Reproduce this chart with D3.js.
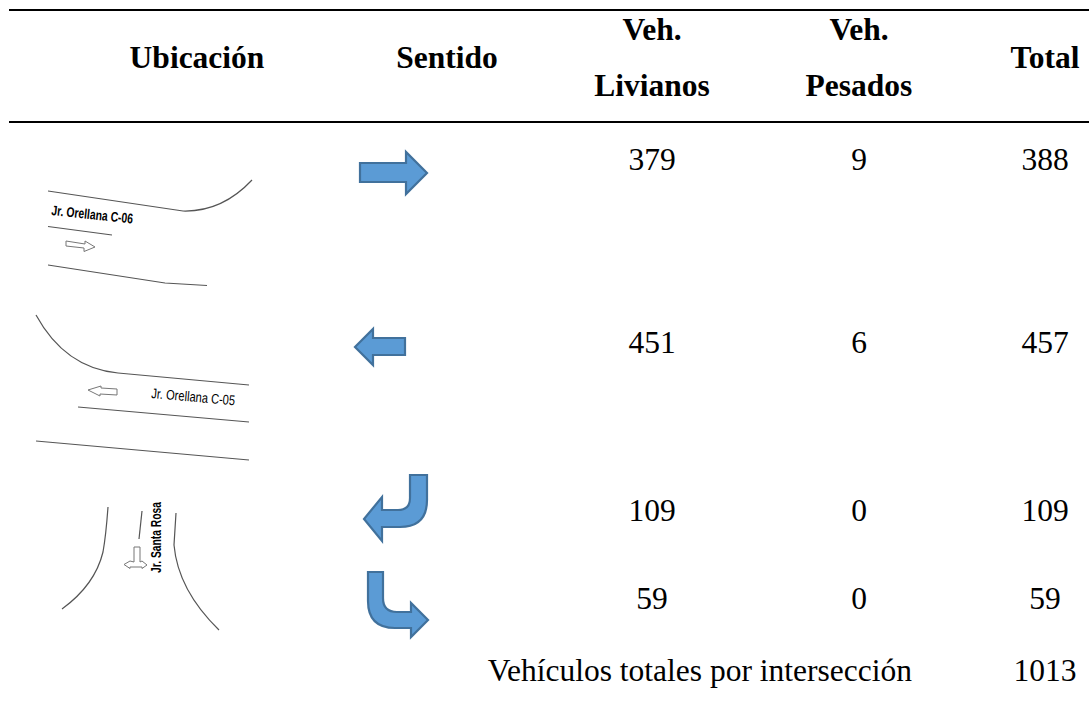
<!DOCTYPE html>
<html>
<head>
<meta charset="utf-8">
<script src="https://cdnjs.cloudflare.com/ajax/libs/d3/7.8.5/d3.min.js"></script>
<style>
	html, body { margin: 0; padding: 0; background: #fff; }
	svg { display: block; }
	text { font-family: "Liberation Serif", serif; fill: #000; }
	.head { font-weight: bold; font-size: 31.5px; text-anchor: middle; }
	.cell { font-size: 31.5px; text-anchor: middle; }
	.road { fill: none; stroke: #555; stroke-width: 1.2; }
	.small-arrow { fill: #fff; stroke: #777; stroke-width: 1; }
	.road-label { font-family: "Liberation Sans", sans-serif; font-size: 14px; }
	.turn { fill: #5b9bd5; stroke: #41719c; stroke-width: 2.2; }
</style>
</head>
<body>
<div id="chart"></div>
<script>
// Table values
var rowKeys = ["este", "oeste", "giroIzq", "giroDer"];
var livianos = [379, 451, 109, 59];
var pesados = [9, 6, 0, 0];
var totales = [388, 457, 109, 59];
var totalLabel = "Vehículos totales por intersección";
var totalGeneral = 1013;

var width = 1089, height = 701;

var svg = d3.select("#chart").append("svg")
	.attr("width", width)
	.attr("height", height);

// Row and column positions
var y = d3.scaleOrdinal().domain(rowKeys).range([170, 353, 521, 609]);
var colX = { livianos: 652, pesados: 859, total: 1045 };

// Horizontal rules
[10, 122].forEach(function(ruleY) {
	svg.append("line")
		.attr("x1", 9).attr("x2", 1089)
		.attr("y1", ruleY).attr("y2", ruleY)
		.attr("stroke", "#000").attr("stroke-width", 2);
});

// Header
var headers = [
	{ x: 197, y: 68, t: "Ubicación" },
	{ x: 447, y: 68, t: "Sentido" },
	{ x: colX.livianos, y: 40, t: "Veh." },
	{ x: colX.livianos, y: 96, t: "Livianos" },
	{ x: colX.pesados, y: 40, t: "Veh." },
	{ x: colX.pesados, y: 96, t: "Pesados" },
	{ x: colX.total, y: 68, t: "Total" }
];
svg.selectAll(".head").data(headers).enter().append("text")
	.attr("class", "head")
	.attr("x", function(d) { return d.x; })
	.attr("y", function(d) { return d.y; })
	.text(function(d) { return d.t; });

// Body cells
function addColumn(values, x) {
	svg.selectAll(null).data(values).enter().append("text")
		.attr("class", "cell")
		.attr("x", x)
		.attr("y", function(d, i) { return y(rowKeys[i]); })
		.text(function(d) { return d; });
}
addColumn(livianos, colX.livianos);
addColumn(pesados, colX.pesados);
addColumn(totales, colX.total);

// Footer
svg.append("text").attr("class", "cell")
	.attr("x", 912).attr("y", 681)
	.style("text-anchor", "end")
	.text(totalLabel);
svg.append("text").attr("class", "cell")
	.attr("x", colX.total).attr("y", 681)
	.text(totalGeneral);

// Blue direction arrows
var turnArrows = [
	"M360,163H406V152L427,173L406,194V182H360Z",
	"M405,338H373V329L355,347L373,365V355H405Z",
	"M410,475H427V500Q427,527 400,527H382V541L364,519L382,497V510H398Q410,510 410,498Z",
	"M368,572H383V598Q383,612 397,612H411V603L428,620L411,637V628H395Q368,628 368,601Z"
];
svg.selectAll(".turn").data(turnArrows).enter().append("path")
	.attr("class", "turn")
	.attr("d", function(d) { return d; });

// Road sketches in the first column
var roads = [
	"M48,191L183,211Q222,212 252,180",
	"M48,226.5L112,235",
	"M48,265L165,283L207,285.5",
	"M36,315Q65,368 118,373L249,385",
	"M78,407L249,422",
	"M36,441L249,460",
	"M108,507Q106,535 103,552Q95,585 62,609",
	"M142,511L139,539",
	"M176,513L174,545Q178,590 219,630"
];
svg.selectAll(".road").data(roads).enter().append("path")
	.attr("class", "road")
	.attr("d", function(d) { return d; });

var smallArrows = [
	"M66,241L85,244L85,241L95,247L84,251.5L84,248L66,246Z",
	"M117,389L117,395L100,394L100,396L88,390L101,386L101,388Z",
	"M134,547H140V562L142,561L147,565L142,568.5V567H130V568.5L124,564.5L130,561L134,562Z"
];
svg.selectAll(".small-arrow").data(smallArrows).enter().append("path")
	.attr("class", "small-arrow")
	.attr("d", function(d) { return d; });

var roadLabels = [
	{ t: "Jr. Orellana C-06", x: 51, y: 215, r: 6, w: "bold", len: 82 },
	{ t: "Jr. Orellana C-05", x: 151, y: 398, r: 5, w: "normal", len: 84 },
	{ t: "Jr. Santa Rosa", x: 161, y: 573, r: -90, w: "bold", len: 71 }
];
svg.selectAll(".road-label").data(roadLabels).enter().append("text")
	.attr("class", "road-label")
	.attr("transform", function(d) { return "translate(" + d.x + "," + d.y + ") rotate(" + d.r + ")"; })
	.attr("font-weight", function(d) { return d.w; })
	.attr("textLength", function(d) { return d.len; })
	.attr("lengthAdjust", "spacingAndGlyphs")
	.text(function(d) { return d.t; });
</script>
</body>
</html>
